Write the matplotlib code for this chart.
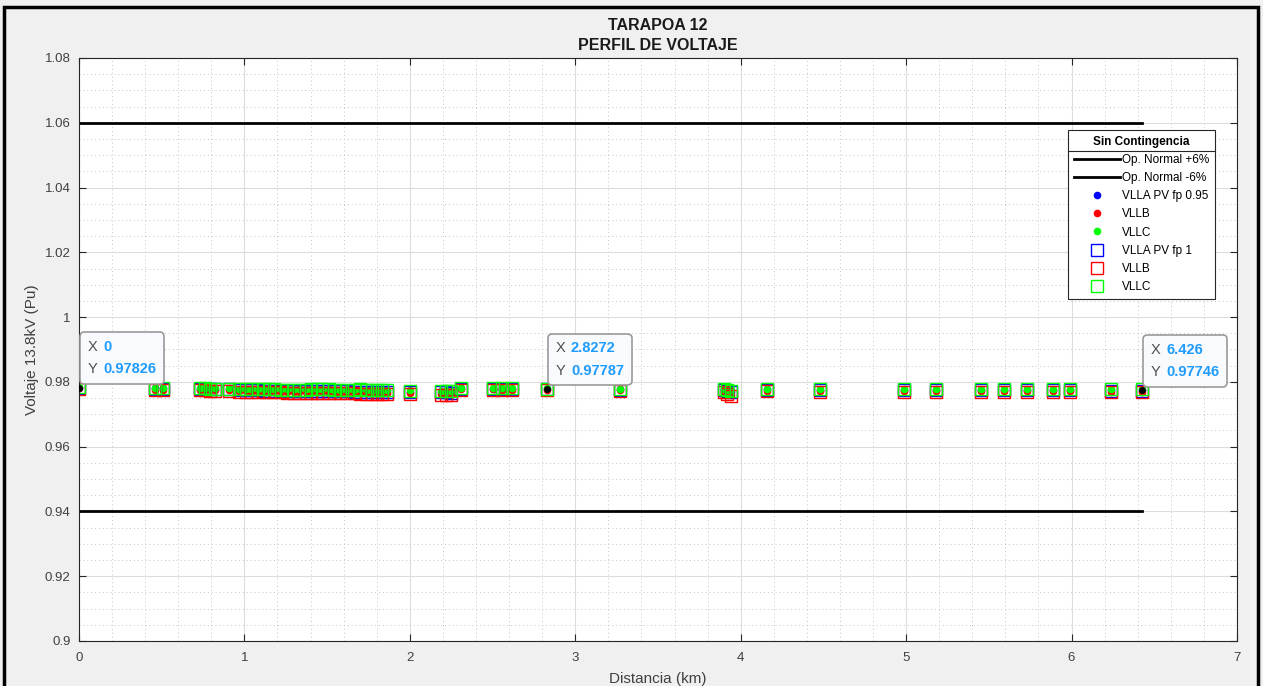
import numpy as np
import matplotlib
matplotlib.use("Agg")
import matplotlib.pyplot as plt
from matplotlib.ticker import MultipleLocator
from matplotlib.offsetbox import TextArea, HPacker, VPacker, AnnotationBbox
from matplotlib.patches import Rectangle
from matplotlib.lines import Line2D

plt.rcParams['font.family'] = ['Liberation Sans', 'DejaVu Sans']

# distancia (km) de cada barra
dist = [0.0, 0.46, 0.51, 0.73, 0.76, 0.79, 0.82, 0.91, 0.97, 1.01, 1.04, 1.08, 1.12, 1.15,
        1.18, 1.22, 1.26, 1.30, 1.33, 1.37, 1.40, 1.44, 1.47, 1.51, 1.54, 1.58, 1.62, 1.66,
        1.70, 1.74, 1.77, 1.80, 1.83, 1.86, 2.00, 2.19, 2.22, 2.25, 2.31, 2.50, 2.56, 2.62,
        2.8272, 3.27, 3.90, 3.92, 3.94, 4.16, 4.48, 4.99, 5.18, 5.45, 5.59, 5.73, 5.89, 5.99,
        6.24, 6.426]

# PV fp 0.95
va95 = [0.97826, 0.97800, 0.97798, 0.97790, 0.97788, 0.97786, 0.97784, 0.97780,
        0.97760, 0.97755, 0.97752, 0.97750, 0.97748, 0.97745, 0.97742, 0.97740, 0.97738, 0.97736,
        0.97734, 0.97732, 0.97730, 0.97728, 0.97726, 0.97724, 0.97722, 0.97720, 0.97718, 0.97716,
        0.97714, 0.97712, 0.97710, 0.97708, 0.97706, 0.97704,
        0.97700, 0.97690, 0.97688, 0.97686,
        0.97800, 0.97795, 0.97793, 0.97790, 0.97787,
        0.97775, 0.97760, 0.97720, 0.97700,
        0.97765, 0.97762, 0.97758, 0.97756, 0.97754, 0.97752, 0.97751, 0.97750, 0.97749, 0.97748, 0.97746]
vb95 = [0.97800, 0.97760, 0.97758, 0.97752, 0.97750, 0.97748, 0.97746, 0.97742,
        0.97710, 0.97705, 0.97700, 0.97698, 0.97695, 0.97692, 0.97690, 0.97688, 0.97686, 0.97684,
        0.97680, 0.97678, 0.97676, 0.97674, 0.97672, 0.97670, 0.97668, 0.97666, 0.97664, 0.97660,
        0.97650, 0.97648, 0.97646, 0.97650, 0.97652, 0.97654,
        0.97650, 0.97620, 0.97618, 0.97616,
        0.97770, 0.97765, 0.97763, 0.97760, 0.97750,
        0.97740, 0.97700, 0.97640, 0.97600,
        0.97720, 0.97715, 0.97712, 0.97710, 0.97708, 0.97706, 0.97705, 0.97704, 0.97703, 0.97702, 0.97700]
vc95 = [0.97840, 0.97815, 0.97813, 0.97808, 0.97806, 0.97804, 0.97802, 0.97800,
        0.97790, 0.97786, 0.97784, 0.97782, 0.97780, 0.97778, 0.97776, 0.97774, 0.97772, 0.97770,
        0.97768, 0.97766, 0.97790, 0.97788, 0.97786, 0.97784, 0.97760, 0.97758, 0.97756, 0.97754,
        0.97780, 0.97752, 0.97750, 0.97748, 0.97746, 0.97744,
        0.97740, 0.97730, 0.97728, 0.97726,
        0.97820, 0.97815, 0.97813, 0.97810, 0.97805,
        0.97795, 0.97790, 0.97760, 0.97740,
        0.97790, 0.97788, 0.97786, 0.97784, 0.97782, 0.97780, 0.97779, 0.97778, 0.97777, 0.97776, 0.97775]

# PV fp 1
va1 = [0.97810, 0.97785, 0.97783, 0.97776, 0.97774, 0.97772, 0.97770, 0.97766,
       0.97745, 0.97740, 0.97737, 0.97735, 0.97733, 0.97730, 0.97727, 0.97725, 0.97723, 0.97721,
       0.97719, 0.97717, 0.97715, 0.97713, 0.97711, 0.97709, 0.97707, 0.97705, 0.97703, 0.97701,
       0.97699, 0.97697, 0.97695, 0.97693, 0.97691, 0.97689,
       0.97685, 0.97675, 0.97673, 0.97671,
       0.97785, 0.97780, 0.97778, 0.97775, 0.97770,
       0.97760, 0.97745, 0.97705, 0.97685,
       0.97750, 0.97747, 0.97743, 0.97741, 0.97739, 0.97737, 0.97736, 0.97735, 0.97734, 0.97733, 0.97731]
vb1 = [0.97785, 0.97745, 0.97743, 0.97737, 0.97735, 0.97733, 0.97731, 0.97727,
       0.97695, 0.97690, 0.97685, 0.97683, 0.97680, 0.97677, 0.97675, 0.97673, 0.97671, 0.97669,
       0.97665, 0.97663, 0.97661, 0.97659, 0.97657, 0.97655, 0.97653, 0.97651, 0.97649, 0.97645,
       0.97635, 0.97633, 0.97631, 0.97635, 0.97637, 0.97639,
       0.97635, 0.97605, 0.97603, 0.97601,
       0.97755, 0.97750, 0.97748, 0.97745, 0.97735,
       0.97725, 0.97685, 0.97625, 0.97560,
       0.97705, 0.97700, 0.97697, 0.97695, 0.97693, 0.97691, 0.97690, 0.97689, 0.97688, 0.97687, 0.97685]
vc1 = [0.97830, 0.97805, 0.97803, 0.97798, 0.97796, 0.97794, 0.97792, 0.97790,
       0.97780, 0.97776, 0.97774, 0.97772, 0.97770, 0.97768, 0.97766, 0.97764, 0.97762, 0.97760,
       0.97758, 0.97756, 0.97780, 0.97778, 0.97776, 0.97774, 0.97750, 0.97748, 0.97746, 0.97744,
       0.97770, 0.97742, 0.97740, 0.97738, 0.97736, 0.97734,
       0.97730, 0.97720, 0.97718, 0.97716,
       0.97810, 0.97805, 0.97803, 0.97800, 0.97795,
       0.97785, 0.97780, 0.97750, 0.97730,
       0.97780, 0.97778, 0.97776, 0.97774, 0.97772, 0.97770, 0.97769, 0.97768, 0.97767, 0.97766, 0.97765]

lim_sup = 1.06
lim_inf = 0.94
tips = [(0.0, 0.97826, "0", "0.97826"),
        (2.8272, 0.97787, "2.8272", "0.97787"),
        (6.426, 0.97746, "6.426", "0.97746")]

fig = plt.figure(figsize=(12.63, 6.86), dpi=100, facecolor='#f0f0f0')
ax = fig.add_axes([0.0625, 0.0656, 0.9169, 0.8499])

ax.plot([dist[0], dist[-1]], [lim_sup, lim_sup], color='k', lw=2, label='Op. Normal +6%')
ax.plot([dist[0], dist[-1]], [lim_inf, lim_inf], color='k', lw=2, label='Op. Normal -6%')

ax.plot(dist, va95, 'o', color='#0000ff', ms=5.5, mew=0, label='VLLA PV fp 0.95')
ax.plot(dist, vb95, 'o', color='#ff0000', ms=5.5, mew=0, label='VLLB')
ax.plot(dist, vc95, 'o', color='#00ff00', ms=5.5, mew=0, label='VLLC')
ax.plot(dist, va1, 's', mfc='none', mec='#0000ff', ms=8.5, mew=1, label='VLLA PV fp 1')
ax.plot(dist, vb1, 's', mfc='none', mec='#ff0000', ms=8.5, mew=1, label='VLLB')
ax.plot(dist, vc1, 's', mfc='none', mec='#00ff00', ms=8.5, mew=1, label='VLLC')

ax.set_xlim(0, 7)
ax.set_ylim(0.9, 1.08)
ax.xaxis.set_major_locator(MultipleLocator(1))
ax.xaxis.set_minor_locator(MultipleLocator(0.2))
ax.yaxis.set_minor_locator(MultipleLocator(0.005))
ax.set_yticks(np.arange(0.9, 1.0801, 0.02))
ax.set_yticklabels(['0.9', '0.92', '0.94', '0.96', '0.98', '1', '1.02', '1.04', '1.06', '1.08'])
ax.grid(True, which='major', color='#dcdcdc', lw=0.8, ls='-')
ax.grid(True, which='minor', color='#c4c4c4', lw=0.7, ls=(0, (1, 3)))
ax.set_axisbelow(True)
ax.tick_params(which='major', direction='in', length=5, top=True, right=True,
               colors='#262626', labelsize=9.5, labelcolor='#404040')
ax.tick_params(axis='x', pad=8)
ax.tick_params(axis='y', pad=6)
ax.tick_params(which='minor', length=0)
for s in ax.spines.values():
    s.set_color('#262626')
    s.set_linewidth(0.8)

ax.set_title('TARAPOA 12\nPERFIL DE VOLTAJE', fontsize=11.5, fontweight='bold',
             color='#1a1a1a', pad=6, linespacing=1.35)
ax.set_xlabel('Distancia (km)', fontsize=11, color='#404040', labelpad=6)
ax.set_ylabel('Voltaje 13.8kV (Pu)', fontsize=11, color='#404040', labelpad=4)

leg = ax.legend(loc='upper right', bbox_to_anchor=(0.981, 0.8765), fontsize=8.5,
                title='Sin Contingencia', title_fontproperties={'weight': 'bold', 'size': 8.5},
                fancybox=False, edgecolor='#262626', framealpha=1, handlelength=3.9,
                labelspacing=0.52, borderpad=0.5, handletextpad=0.15, borderaxespad=0)
leg.get_frame().set_linewidth(0.8)

# datatips
for x, y, xs, ys in tips:
    ax.plot([x], [y], 'o', color='k', ms=4, zorder=6)
    row1 = HPacker(children=[TextArea('X', textprops=dict(color='#505050', size=10.5)),
                             TextArea(xs, textprops=dict(color='#1e9bff', size=10.5, weight='bold'))],
                   pad=0, sep=4)
    row2 = HPacker(children=[TextArea('Y', textprops=dict(color='#505050', size=10.5)),
                             TextArea(ys, textprops=dict(color='#1e9bff', size=10.5, weight='bold'))],
                   pad=0, sep=4)
    box = VPacker(children=[row1, row2], pad=0, sep=6, align='left')
    ab = AnnotationBbox(box, (x, y), xybox=(6.5, 8), xycoords='data', boxcoords='offset points',
                        box_alignment=(0, 0),
                        bboxprops=dict(boxstyle='round,pad=0.55,rounding_size=0.3',
                                       fc='#f9fafd', ec='#9a9a9a', lw=1.2), zorder=7)
    ax.add_artist(ab)

# linea bajo el titulo de la leyenda
fig.canvas.draw()
lb = leg.get_window_extent()
tb = leg.get_title().get_window_extent()
ysep = tb.y0 - 3
fig.add_artist(Line2D([lb.x0, lb.x1], [ysep, ysep], transform=None, color='#262626', lw=0.8))

# marco de la figura
fig.add_artist(Rectangle((0.003, -0.02), 0.993, 1.01, transform=fig.transFigure,
                         fill=False, ec='k', lw=2.5))

fig.savefig('out.png', dpi=100, facecolor=fig.get_facecolor())
